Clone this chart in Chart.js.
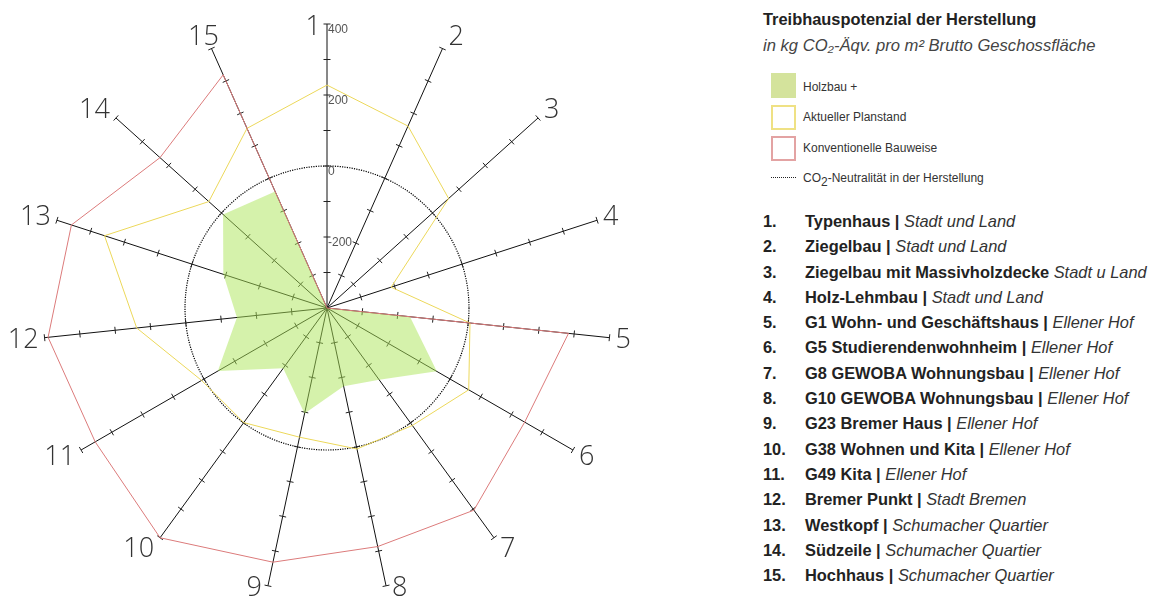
<!DOCTYPE html>
<html lang="de">
<head>
<meta charset="utf-8">
<script src="https://cdn.jsdelivr.net/npm/chart.js@4/dist/chart.umd.min.js"></script>
<style>
	html, body { margin: 0; padding: 0; background: #fff; }
	body { width: 1156px; height: 601px; position: relative; overflow: hidden; font-family: "Liberation Sans", Arial, sans-serif; color: #222; }
	#wrap { position: absolute; left: 0; top: 0; width: 720px; height: 601px; }
	#panel { position: absolute; left: 763px; top: 0; width: 393px; }
	.title { position: absolute; top: 10px; left: 0; font-size: 16.4px; font-weight: bold; white-space: nowrap; }
	.sub { position: absolute; top: 36px; left: 0; font-size: 16.6px; font-style: italic; color: #444; white-space: nowrap; }
	.sw { position: absolute; left: 8px; width: 25px; height: 25px; box-sizing: border-box; }
	.lg { position: absolute; left: 40px; font-size: 12px; color: #333; white-space: nowrap; line-height: 14px; }
	.dots { position: absolute; left: 8px; top: 177px; width: 25px; border-top: 1px dotted #222; }
	#list { position: absolute; left: 0; top: 209px; font-size: 16.4px; line-height: 25.3px; white-space: nowrap; }
	#list div { position: relative; }
	#list .n { display: inline-block; width: 42px; font-weight: bold; }
	#list b { font-weight: bold; }
	#list i { color: #333; }
</style>
</head>
<body>
<div id="wrap"><canvas id="radar"></canvas></div>
<div id="panel">
	<div class="title">Treibhauspotenzial der Herstellung</div>
	<div class="sub">in kg CO₂-Äqv. pro m² Brutto Geschossfläche</div>
	<div class="sw" style="top:73px;background:#d4e39c;"></div>
	<div class="lg" style="top:80px;">Holzbau +</div>
	<div class="sw" style="top:105px;border:2px solid #efe184;"></div>
	<div class="lg" style="top:110px;">Aktueller Planstand</div>
	<div class="sw" style="top:136px;border:2px solid #e3a3a3;"></div>
	<div class="lg" style="top:141px;">Konventionelle Bauweise</div>
	<div class="dots"></div>
	<div class="lg" style="top:171px;">CO<sub style="font-size:12px;vertical-align:-4px;line-height:0;">2</sub>-Neutralität in der Herstellung</div>
	<div id="list"></div>
</div>
<script>
// Achsen (Gebäude)
const categories = ["1", "2", "3", "4", "5", "6", "7", "8", "9", "10", "11", "12", "13", "14", "15"];
const buildings = [
	["Typenhaus |", "Stadt und Land"],
	["Ziegelbau |", "Stadt und Land"],
	["Ziegelbau mit Massivholzdecke", "Stadt u Land"],
	["Holz-Lehmbau |", "Stadt und Land"],
	["G1 Wohn- und Geschäftshaus |", "Ellener Hof"],
	["G5 Studierendenwohnheim |", "Ellener Hof"],
	["G8 GEWOBA Wohnungsbau |", "Ellener Hof"],
	["G10 GEWOBA Wohnungsbau |", "Ellener Hof"],
	["G23 Bremer Haus |", "Ellener Hof"],
	["G38 Wohnen und Kita |", "Ellener Hof"],
	["G49 Kita |", "Ellener Hof"],
	["Bremer Punkt |", "Stadt Bremen"],
	["Westkopf |", "Schumacher Quartier"],
	["Südzeile |", "Schumacher Quartier"],
	["Hochhaus |", "Schumacher Quartier"]
];

// Werte in kg CO2-Äqv./m² BGF
const holzbau = [-400, -400, -400, -400, -165, -43, -150, -175, -96, -190, -45, -145, -93, -6, -41];
const planstand = [228, 161, 61, -210, 5, 61, 9, 6, -28, -1, 8, 139, 259, 48, 154];
const konventionell = [-400, -400, -400, -400, 284, 243, 304, 287, 332, 400, 354, 390, 357, 233, 319];

// Skala
const scaleMin = -400;
const scaleMax = 400;
const tickLabels = [400, 200, 0, -200];

// Liste rechts
buildings.forEach(function(b, i) {
	var row = document.createElement("div");
	row.innerHTML = '<span class="n">' + (i + 1) + '.</span><b>' + b[0] + '</b> <i>' + b[1] + '</i>';
	document.getElementById("list").appendChild(row);
});

const radarDecor = {
	id: "radarDecor",
	beforeDatasetsDraw(chart) {
		const r = chart.scales.r;
		const ctx = chart.ctx;
		ctx.save();
		ctx.strokeStyle = "#222";
		ctx.lineWidth = 1;
		const marks = r.ticks.map((t) => t.value).filter((v) => v > r.min);
		categories.forEach((c, i) => {
			const a = r.getIndexAngle(i);
			const px = Math.cos(a), py = Math.sin(a);
			marks.forEach((v) => {
				const p = r.getPointPositionForValue(i, v);
				ctx.beginPath();
				ctx.moveTo(p.x - px * 3.5, p.y - py * 3.5);
				ctx.lineTo(p.x + px * 3.5, p.y + py * 3.5);
				ctx.stroke();
			});
		});
		ctx.restore();
	},
	afterDraw(chart) {
		const r = chart.scales.r;
		const ctx = chart.ctx;
		ctx.save();
		// Achsenbeschriftung auf Achse 1
		ctx.font = '12px "Liberation Sans", Arial, sans-serif';
		ctx.fillStyle = "#555";
		ctx.textAlign = "left";
		ctx.textBaseline = "middle";
		tickLabels.forEach((v) => {
			const p = r.getPointPositionForValue(0, v);
			ctx.fillText(String(v), p.x + 1, p.y + 6);
		});
		// Nummern an den Achsenenden
		ctx.font = '300 27px "Open Sans", "Liberation Sans", sans-serif';
		ctx.fillStyle = "#333";
		categories.forEach((c, i) => {
			const p = r.getPointPositionForValue(i, scaleMax);
			const a = r.getIndexAngle(i);
			const right = a > 0.01 && a < Math.PI + 0.01;
			const nearVertical = Math.abs(Math.sin(a)) < 0.25;
			const topLeft = !right && Math.cos(a) > 0.85 && a > 0.01;
			ctx.textAlign = right ? "left" : (topLeft ? "center" : "right");
			const dy = nearVertical ? 3 : -13 * Math.cos(a) + 1;
			const dx = right ? 6 : (topLeft ? -8 : -6);
			ctx.fillText(c, p.x + dx, p.y + dy);
		});
		ctx.restore();
	}
};

const ctx1 = document.getElementById("radar");
const data1 = {
	labels: categories,
	datasets: [{
		label: "Konventionelle Bauweise",
		data: konventionell,
		borderColor: "#dc7b7b",
		backgroundColor: "transparent",
		borderWidth: 1,
		fill: false,
		pointRadius: 0
	}, {
		label: "Aktueller Planstand",
		data: planstand,
		borderColor: "#ecd85a",
		backgroundColor: "transparent",
		borderWidth: 1,
		fill: false,
		pointRadius: 0
	}, {
		label: "Holzbau +",
		data: holzbau,
		borderColor: "transparent",
		backgroundColor: "rgba(171, 229, 87, 0.5)",
		borderWidth: 0,
		fill: "start",
		pointRadius: 0
	}]
};
const config1 = {
	type: "radar",
	data: data1,
	options: {
		responsive: true,
		maintainAspectRatio: false,
		animation: false,
		layout: {
			padding: { left: 43, top: 24, right: 109, bottom: 9 }
		},
		scales: {
			r: {
				min: scaleMin,
				max: scaleMax,
				beginAtZero: false,
				ticks: { display: false, stepSize: 100 },
				pointLabels: { display: false },
				angleLines: { color: "#111", lineWidth: 1 },
				grid: {
					circular: true,
					lineWidth: 1.2,
					color: (c) => (c.tick && c.tick.value === 0 ? "#000" : "transparent")
				},
				border: { dash: [1.2, 1.2] }
			}
		},
		plugins: {
			legend: { display: false },
			tooltip: { enabled: false }
		}
	},
	plugins: [radarDecor]
};
const radar = new Chart(ctx1, config1);
</script>
</body>
</html>
